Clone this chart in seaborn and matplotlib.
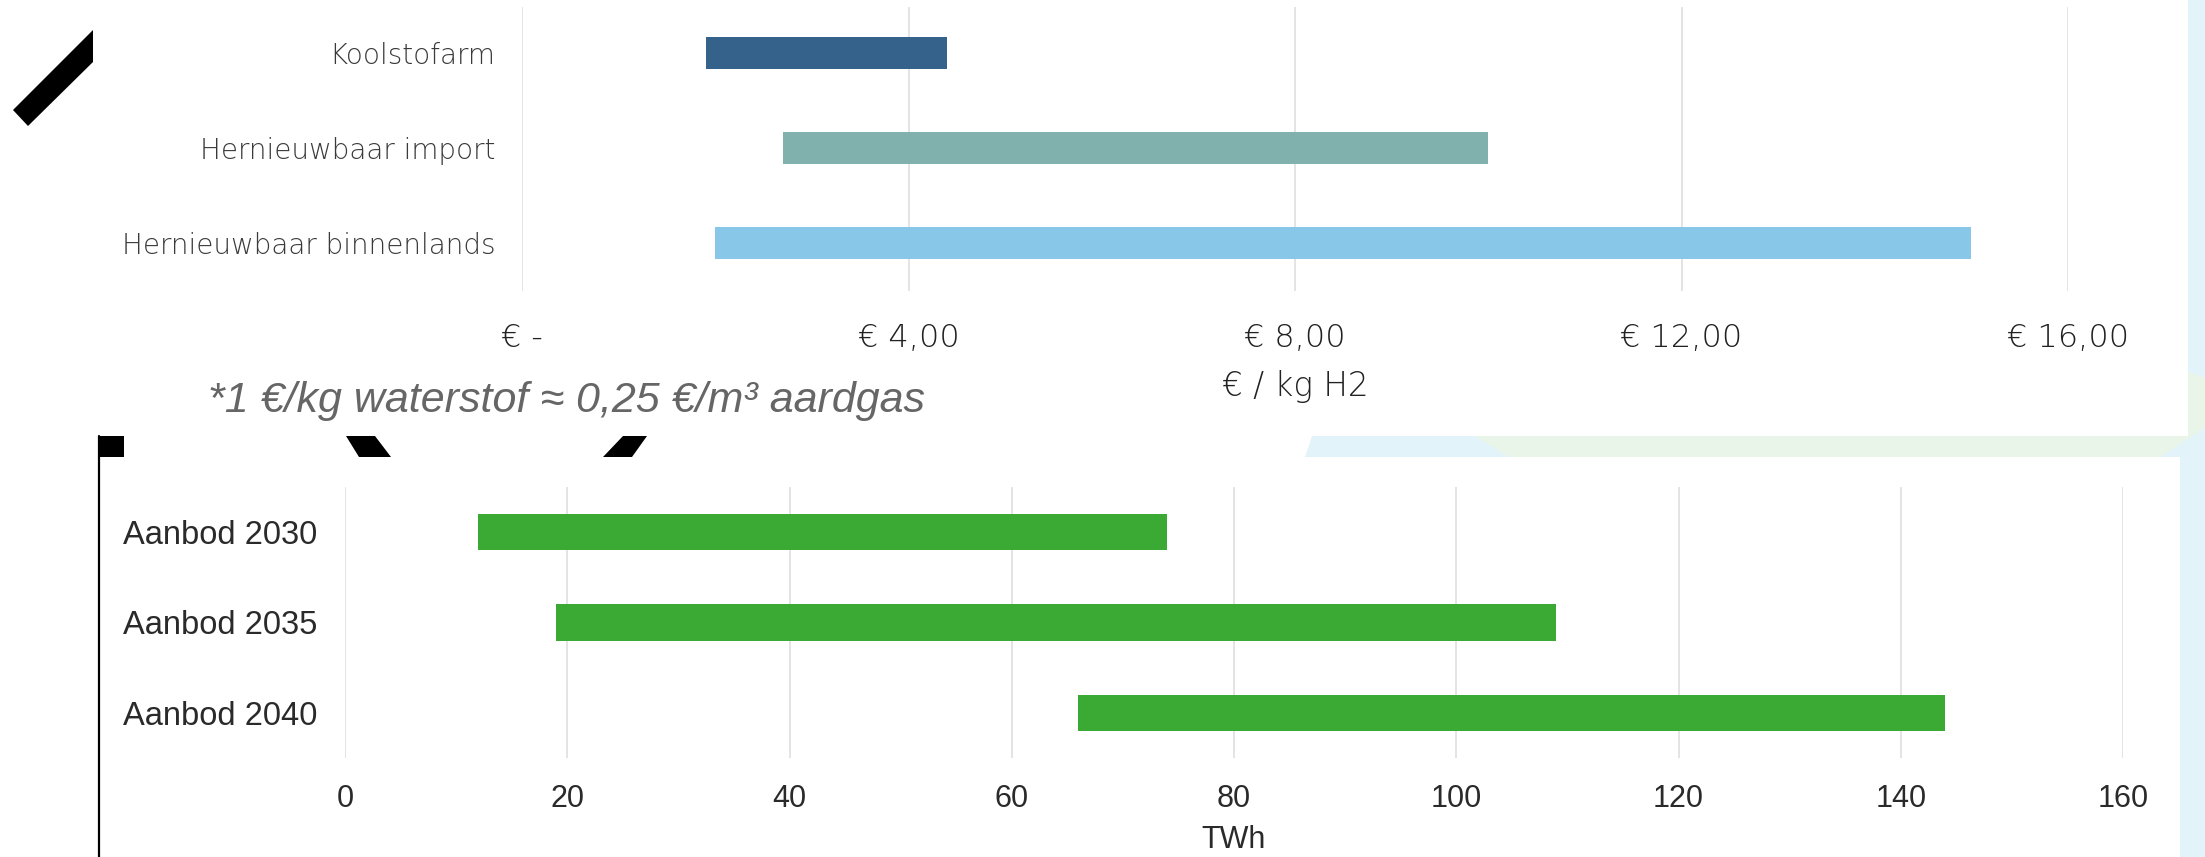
import numpy as np
import pandas as pd
import matplotlib
matplotlib.use("Agg")
import matplotlib.pyplot as plt
from matplotlib.patches import Polygon, Rectangle
import seaborn as sns

# cost of hydrogen per kg, range per source
cost_categories = ["Koolstofarm", "Hernieuwbaar import", "Hernieuwbaar binnenlands"]
cost_low = [1.9, 2.7, 2.0]
cost_high = [4.4, 10.0, 15.0]
cost_ticks = [0, 4, 8, 12, 16]
cost_ticklabels = ["€ -", "€ 4,00", "€ 8,00", "€ 12,00", "€ 16,00"]

# supply range in TWh
supply_categories = ["Aanbod 2030", "Aanbod 2035", "Aanbod 2040"]
supply_low = [12, 19, 66]
supply_high = [74, 109, 144]
supply_ticks = [0, 20, 40, 60, 80, 100, 120, 140, 160]

cost_colors = ["#35628A", "#80B1AC", "#88C7E7"]
green = "#3BAA35"
grid_col = "#DCDCDC"

sns.set_style("white")
plt.rcParams["font.family"] = ["DejaVu Sans"]
arial = ["Liberation Sans", "DejaVu Sans"]

W, H = 2205, 857
fig = plt.figure(figsize=(W / 100, H / 100), dpi=100)
fig.patch.set_facecolor("white")

# background decoration (screenshot frame), drawn in pixel coordinates
bg = fig.add_axes([0, 0, 1, 1], zorder=-5)
bg.set_xlim(0, W)
bg.set_ylim(H, 0)
bg.axis("off")
blue_bg = "#E3F3FA"
green_bg = "#EAF5E9"
bg.add_patch(Rectangle((2180, 0), 25, H, color=blue_bg, lw=0))
bg.add_patch(Polygon([(1312, 436), (2205, 436), (2205, 457), (1305, 457)], color=blue_bg, lw=0))
bg.add_patch(Polygon([(1475, 436), (2188, 436), (2188, 372), (2205, 378), (2205, 428),
                      (2160, 457), (1509, 457)], color=green_bg, lw=0))
bg.add_patch(Rectangle((0, 0), 2188, 436, color="white", lw=0))
bg.add_patch(Rectangle((0, 457), 2180, 400, color="white", lw=0))
# black fragments of the slide behind
bg.add_patch(Polygon([(13, 110), (28, 126), (93, 62), (93, 30)], color="black", lw=0))
bg.add_patch(Rectangle((99, 436), 25, 21, color="black", lw=0))
bg.add_patch(Polygon([(346, 436), (375, 436), (391, 457), (359, 457)], color="black", lw=0))
bg.add_patch(Polygon([(623, 436), (647, 436), (632, 457), (603, 457)], color="black", lw=0))
bg.plot([99, 99], [436, H], color="black", lw=1.6)


def range_bars(ax, cats, low, high, width, color):
    # seaborn draws the bar length, then each bar is moved to start at its low value
    df = pd.DataFrame({"cat": cats, "span": np.array(high) - np.array(low)})
    sns.barplot(data=df, x="span", y="cat", orient="h", width=width, color=color,
                saturation=1, errorbar=None, linewidth=0, ax=ax)
    for p, lo in zip(ax.patches, low):
        p.set_x(lo)


# ---------------- top chart: cost per kg H2 ----------------
ax1 = fig.add_axes([522 / W, 1 - 291 / H, 1546 / W, 284 / H])
range_bars(ax1, cost_categories, cost_low, cost_high, 0.33, cost_colors[0])
for p, c in zip(ax1.patches, cost_colors):
    p.set_facecolor(c)
ax1.set_xlim(0, 16)
ax1.set_ylim(2.505, -0.484)
ax1.set_xticks(cost_ticks)
ax1.set_xticklabels(cost_ticklabels)
ax1.xaxis.grid(True, color=grid_col, lw=1.1)
ax1.yaxis.grid(False)
ax1.set_axisbelow(True)
for s in ax1.spines.values():
    s.set_visible(False)
ax1.tick_params(axis="y", length=0, pad=19, labelsize=20, labelcolor="#3a3a3a")
ax1.tick_params(axis="x", length=0, pad=23, labelsize=23, labelcolor="#222222")
for t in ax1.get_yticklabels() + ax1.get_xticklabels():
    t.set_fontweight("light")
ax1.set_ylabel("")
ax1.set_xlabel("€ / kg H2", fontsize=23.5, color="#222222", fontweight="light", labelpad=12)

fig.text(208 / W, 1 - 401 / H, "*1 €/kg waterstof ≈ 0,25 €/m³ aardgas",
         family=arial, style="italic", fontsize=31,
         color="#666666", ha="left", va="center")

# ---------------- bottom chart: supply TWh ----------------
ax2 = fig.add_axes([345 / W, 1 - 758 / H, 1778 / W, 271 / H])
range_bars(ax2, supply_categories, supply_low, supply_high, 0.4, green)
ax2.set_xlim(0, 160)
ax2.set_ylim(2.5, -0.5)
ax2.set_xticks(supply_ticks)
ax2.xaxis.grid(True, color=grid_col, lw=1.1)
ax2.yaxis.grid(False)
ax2.set_axisbelow(True)
for s in ax2.spines.values():
    s.set_visible(False)
ax2.tick_params(axis="both", length=0, labelsize=22, labelcolor="#2a2a2a")
ax2.tick_params(axis="y", pad=20, labelsize=23.5)
ax2.tick_params(axis="x", pad=19)
for t in ax2.get_yticklabels() + ax2.get_xticklabels():
    t.set_family(arial)
ax2.set_ylabel("")
ax2.set_xlabel("TWh", fontsize=22, color="#2a2a2a", family=arial, labelpad=8)

fig.savefig("out.png", dpi=100, facecolor="white")
